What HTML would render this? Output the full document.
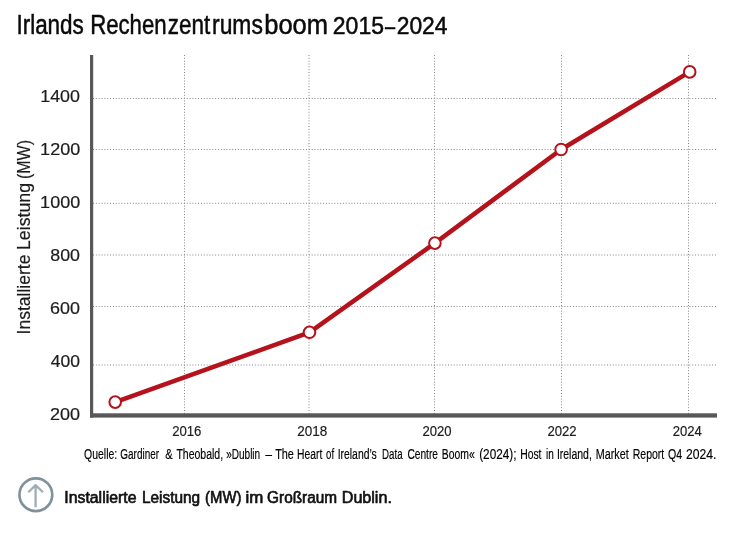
<!DOCTYPE html>
<html lang="de">
<head>
<meta charset="utf-8">
<title>Irlands Rechenzentrumsboom 2015–2024</title>
<style>
  html, body { margin: 0; padding: 0; background: #ffffff; }
  body { width: 753px; height: 537px; overflow: hidden; position: relative;
         font-family: "Liberation Sans", sans-serif; }
  svg { position: absolute; left: 0; top: 0; display: block; will-change: transform; }
  text { font-family: "Liberation Sans", sans-serif; }
  .title text { font-size: 27px; fill: #0a0a0a; stroke: #0a0a0a; stroke-width: 0.5px; stroke-linejoin: round; }
  .title.digits text { font-size: 24.6px; }
  .ylab text { font-size: 16.5px; fill: #1c1c1c; stroke: #1c1c1c; stroke-width: 0.2px; }
  .xlab text { font-size: 14.7px; fill: #1c1c1c; stroke: #1c1c1c; stroke-width: 0.2px; }
  .src text { font-size: 15.4px; fill: #000000; stroke: #000000; stroke-width: 0.18px; }
  .cap text { font-size: 15.8px; fill: #111111; stroke: #111111; stroke-width: 0.65px; stroke-linejoin: round; }
  .grid line { stroke: #868686; stroke-width: 1; stroke-dasharray: 1 1.84; fill: none; }
</style>
</head>
<body>
<svg width="753" height="537" viewBox="0 0 753 537">
  <!-- title -->
  <g class="title">
    <text x="16.43" y="34.30" textLength="67.40" lengthAdjust="spacingAndGlyphs">Irlands</text>
    <text x="90.14" y="34.30" textLength="76.51" lengthAdjust="spacingAndGlyphs">Rechen</text>
    <text x="167.84" y="34.30" textLength="42.47" lengthAdjust="spacingAndGlyphs">zent</text>
    <text x="212.03" y="34.30" textLength="50.79" lengthAdjust="spacingAndGlyphs">rums</text>
    <text x="264.28" y="34.30" textLength="63.78" lengthAdjust="spacingAndGlyphs">boom</text>
  </g>
  <g class="title digits">
    <text x="332.81" y="34.30" textLength="51.21" lengthAdjust="spacingAndGlyphs">2015</text>
    <text x="385.11" y="34.30" textLength="10.16" lengthAdjust="spacingAndGlyphs">–</text>
    <text x="396.69" y="34.30" textLength="50.84" lengthAdjust="spacingAndGlyphs">2024</text>
  </g>

  <!-- grid -->
  <g class="grid">
    <line x1="93" y1="98.5" x2="717" y2="98.5"/>
    <line x1="93" y1="149.5" x2="717" y2="149.5"/>
    <line x1="93" y1="203.3" x2="717" y2="203.3"/>
    <line x1="93" y1="255" x2="717" y2="255"/>
    <line x1="93" y1="306.5" x2="717" y2="306.5"/>
    <line x1="93" y1="365" x2="717" y2="365"/>
    <line x1="184.5" y1="55" x2="184.5" y2="414"/>
    <line x1="309" y1="55" x2="309" y2="414"/>
    <line x1="434.5" y1="55" x2="434.5" y2="414"/>
    <line x1="561.5" y1="55" x2="561.5" y2="414"/>
    <line x1="688.5" y1="55" x2="688.5" y2="414"/>
  </g>

  <!-- axes -->
  <rect x="90" y="55" width="3.2" height="362.6" fill="#58585a"/>
  <rect x="90" y="413.3" width="627" height="4.3" fill="#58585a"/>

  <!-- data line -->
  <polyline points="115.2,402.1 309.5,332.4 434.9,243.1 561.1,149.5 689.7,71.9"
            fill="none" stroke="#b5121b" stroke-width="4.5" stroke-linejoin="round" stroke-linecap="round"/>
  <g fill="#ffffff" stroke="#b5121b" stroke-width="2">
    <circle cx="115.2" cy="402.1" r="5.8"/>
    <circle cx="309.5" cy="332.3" r="5.8"/>
    <circle cx="434.9" cy="243.1" r="5.8"/>
    <circle cx="561.1" cy="149.5" r="5.8"/>
    <circle cx="689.7" cy="71.9" r="5.8"/>
  </g>

  <!-- y tick labels -->
  <g class="ylab">
    <text x="40.24" y="102.00" textLength="39.76" lengthAdjust="spacingAndGlyphs">1400</text>
    <text x="40.13" y="155.00" textLength="40.04" lengthAdjust="spacingAndGlyphs">1200</text>
    <text x="40.13" y="208.00" textLength="40.04" lengthAdjust="spacingAndGlyphs">1000</text>
    <text x="50.31" y="261.00" textLength="29.73" lengthAdjust="spacingAndGlyphs">800</text>
    <text x="50.13" y="314.00" textLength="29.94" lengthAdjust="spacingAndGlyphs">600</text>
    <text x="50.76" y="367.00" textLength="29.19" lengthAdjust="spacingAndGlyphs">400</text>
    <text x="50.05" y="420.00" textLength="30.03" lengthAdjust="spacingAndGlyphs">200</text>
  </g>

  <!-- y axis title -->
  <g transform="translate(29.9,333.5) rotate(-90)" font-size="18.2" fill="#1c1c1c" stroke="#1c1c1c" stroke-width="0.2">
    <text x="-1" y="0" textLength="80" lengthAdjust="spacingAndGlyphs">Installierte</text>
    <text x="83.5" y="0" textLength="67" lengthAdjust="spacingAndGlyphs">Leistung</text>
    <text x="154.5" y="0" textLength="39" lengthAdjust="spacingAndGlyphs">(MW)</text>
  </g>

  <!-- x tick labels -->
  <g class="xlab">
    <text x="172.15" y="436.00" textLength="29.29" lengthAdjust="spacingAndGlyphs">2016</text>
    <text x="297.16" y="436.00" textLength="30.03" lengthAdjust="spacingAndGlyphs">2018</text>
    <text x="422.53" y="436.00" textLength="29.14" lengthAdjust="spacingAndGlyphs">2020</text>
    <text x="547.42" y="436.00" textLength="29.27" lengthAdjust="spacingAndGlyphs">2022</text>
    <text x="672.68" y="436.00" textLength="29.17" lengthAdjust="spacingAndGlyphs">2024</text>
  </g>

  <!-- source line -->
  <g class="src">
    <text x="84.06" y="458.50" textLength="33.15" lengthAdjust="spacingAndGlyphs">Quelle:</text>
    <text x="120.29" y="458.50" textLength="38.76" lengthAdjust="spacingAndGlyphs">Gardiner</text>
    <text x="165.18" y="458.50" textLength="7.40" lengthAdjust="spacingAndGlyphs">&amp;</text>
    <text x="176.38" y="458.50" textLength="46.76" lengthAdjust="spacingAndGlyphs">Theobald,</text>
    <text x="226.19" y="458.50" textLength="33.99" lengthAdjust="spacingAndGlyphs">»Dublin</text>
    <text x="265.18" y="458.50" textLength="6.79" lengthAdjust="spacingAndGlyphs">–</text>
    <text x="275.14" y="458.50" textLength="18.71" lengthAdjust="spacingAndGlyphs">The</text>
    <text x="297.04" y="458.50" textLength="25.21" lengthAdjust="spacingAndGlyphs">Heart</text>
    <text x="326.12" y="458.50" textLength="7.99" lengthAdjust="spacingAndGlyphs">of</text>
    <text x="337.70" y="458.50" textLength="39.07" lengthAdjust="spacingAndGlyphs">Ireland’s</text>
    <text x="382.07" y="458.50" textLength="20.46" lengthAdjust="spacingAndGlyphs">Data</text>
    <text x="407.42" y="458.50" textLength="30.59" lengthAdjust="spacingAndGlyphs">Centre</text>
    <text x="441.76" y="458.50" textLength="32.96" lengthAdjust="spacingAndGlyphs">Boom«</text>
    <text x="479.19" y="458.50" textLength="37.32" lengthAdjust="spacingAndGlyphs">(2024);</text>
    <text x="520.13" y="458.50" textLength="21.36" lengthAdjust="spacingAndGlyphs">Host</text>
    <text x="546.12" y="458.50" textLength="7.79" lengthAdjust="spacingAndGlyphs">in</text>
    <text x="556.88" y="458.50" textLength="34.97" lengthAdjust="spacingAndGlyphs">Ireland,</text>
    <text x="595.66" y="458.50" textLength="33.00" lengthAdjust="spacingAndGlyphs">Market</text>
    <text x="632.70" y="458.50" textLength="31.61" lengthAdjust="spacingAndGlyphs">Report</text>
    <text x="667.94" y="458.50" textLength="14.14" lengthAdjust="spacingAndGlyphs">Q4</text>
    <text x="686.06" y="458.50" textLength="30.42" lengthAdjust="spacingAndGlyphs">2024.</text>
  </g>

  <!-- caption icon -->
  <g fill="none" stroke="#7f919c" stroke-linejoin="round">
    <circle cx="35.85" cy="494.7" r="16.4" stroke-width="2.65"/>
    <path d="M35.6 507.3 L35.6 485.4 M28.3 492.3 L35.6 485.1 L43.0 492.3" stroke-width="2.3" stroke="#9fadb6"/>
  </g>

  <!-- caption -->
  <g class="cap">
    <text x="64.31" y="502.50" textLength="72.17" lengthAdjust="spacingAndGlyphs">Installierte</text>
    <text x="141.95" y="502.50" textLength="58.19" lengthAdjust="spacingAndGlyphs">Leistung</text>
    <text x="205.08" y="502.50" textLength="36.28" lengthAdjust="spacingAndGlyphs">(MW)</text>
    <text x="245.54" y="502.50" textLength="17.81" lengthAdjust="spacingAndGlyphs">im</text>
    <text x="267.12" y="502.50" textLength="69.96" lengthAdjust="spacingAndGlyphs">Großraum</text>
    <text x="341.76" y="502.50" textLength="50.13" lengthAdjust="spacingAndGlyphs">Dublin.</text>
  </g>
</svg>
</body>
</html>
